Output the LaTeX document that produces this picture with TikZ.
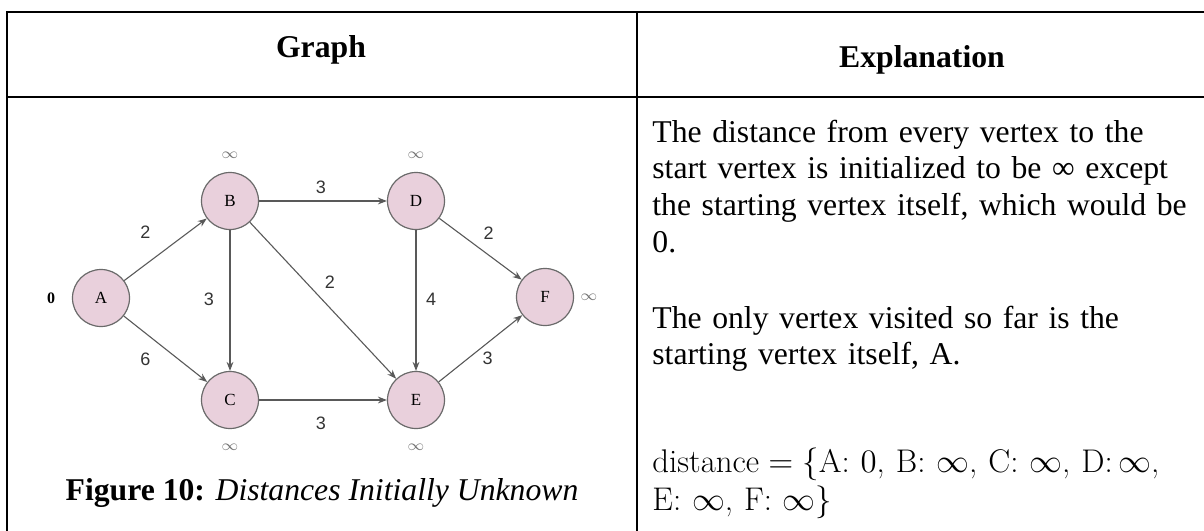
\RequirePackage{fix-cm}
\documentclass[tikz,border=0pt]{standalone}
\usepackage{amsmath}
\usepackage{fontspec}
\usepackage{xcolor}
\usetikzlibrary{arrows.meta,positioning}
\newfontfamily\tnr{Liberation Serif}
\newfontfamily\arial{Liberation Sans}
\definecolor{vfill}{HTML}{E9D0DC}
\definecolor{vline}{HTML}{6A6A6A}
\definecolor{eline}{HTML}{595959}

\begin{document}
\begin{tikzpicture}[x=0.5pt, y=-0.5pt,
    rule/.style={line width=1pt, black},
    header/.style={font=\tnr\bfseries\fontsize{15.85}{18}\selectfont, inner sep=0pt},
    vertex/.style={circle, draw=vline, line width=0.6pt, fill=vfill, minimum size=28.5pt,
      inner sep=0pt, font=\tnr\fontsize{8.5}{10}\selectfont},
    wedge/.style={draw=eline, line width=0.55pt, -{Stealth[length=4.5pt, width=3.4pt]}},
    wt/.style={font=\arial\fontsize{9}{10}\selectfont, text=black!80, inner sep=0pt},
    dist/.style={font=\fontsize{7.5}{8}\selectfont, text=black!55, inner sep=0pt},
    body/.style={font=\tnr\fontsize{15.85}{18.35}\selectfont, anchor=base west,
      text width=300pt, align=left, inner sep=0pt},
    mathbody/.style={font=\fontsize{16.4}{19}\selectfont, anchor=base west,
      text width=300pt, align=left, inner sep=0pt}]
  \useasboundingbox (0,0) rectangle (1204,530);
  \clip (0,0) rectangle (1204,530);

  % table rules
  \draw[rule] (7,560) -- (7,12) -- (1240,12);
  \draw[rule] (7,97) -- (1240,97);
  \draw[rule] (637,12) -- (637,560);

  % headers
  \node[header, anchor=base] (hgraph) at (321,57) {Graph};
  \node[header, anchor=base] (hexpl) at (922,67) {Explanation};

  % vertices
  \node[vertex] (A) at (101,298) {A};
  \node[vertex] (B) at (230,201) {B};
  \node[vertex] (C) at (230,400) {C};
  \node[vertex] (D) at (416,201) {D};
  \node[vertex] (E) at (416,400) {E};
  \node[vertex] (F) at (545,297) {F};

  % distances
  \node[font=\tnr\bfseries\fontsize{8}{9}\selectfont, inner sep=0pt] (dA) at (51,298) {0};
  \node[dist] (dB) at (230,155) {$\infty$};
  \node[dist] (dD) at (416,155) {$\infty$};
  \node[dist] (dC) at (230,447) {$\infty$};
  \node[dist] (dE) at (416,447) {$\infty$};
  \node[dist] (dF) at (589,297) {$\infty$};

  % weighted edges
  \draw[wedge] (A) -- node[wt, midway, shift={(-20,-17)}] (wAB) {2} (B);
  \draw[wedge] (A) -- node[wt, midway, shift={(-20,10)}] (wAC) {6} (C);
  \draw[wedge] (B) -- node[wt, midway, shift={(-2,-14)}] (wBD) {3} (D);
  \draw[wedge] (B) -- node[wt, midway, shift={(-21,-1)}] (wBC) {3} (C);
  \draw[wedge] (B) -- node[wt, midway, shift={(7,-18)}] (wBE) {2} (E);
  \draw[wedge] (D) -- node[wt, midway, shift={(15,-1)}] (wDE) {4} (E);
  \draw[wedge] (D) -- node[wt, midway, shift={(8,-16)}] (wDF) {2} (F);
  \draw[wedge] (C) -- node[wt, midway, shift={(-2,23)}] (wCE) {3} (E);
  \draw[wedge] (E) -- node[wt, midway, shift={(7,10)}] (wEF) {3} (F);

  % caption
  \node[font=\tnr\fontsize{15.85}{18}\selectfont, anchor=base, inner sep=0pt] (cap) at (322,500)
    {\textbf{Figure 10:} \textit{Distances Initially Unknown}};

  % explanation
  \node[body] (txt1) at (652,142) {The distance from every vertex to the\\
    start vertex is initialized to be ∞ except\\
    the starting vertex itself, which would be\\
    0.};
  \node[body] (txt2) at (652,328) {The only vertex visited so far is the\\
    starting vertex itself, A.};
  \node[mathbody] (txt3) at (652,472)
    {$\text{distance} = \{\text{A: }0\text{, B: }\infty\text{, C: }\infty\text{, D:}\,\infty\text{,}$\\
    $\text{E: }\infty\text{, F: }\infty\}$};
\end{tikzpicture}
\end{document}
